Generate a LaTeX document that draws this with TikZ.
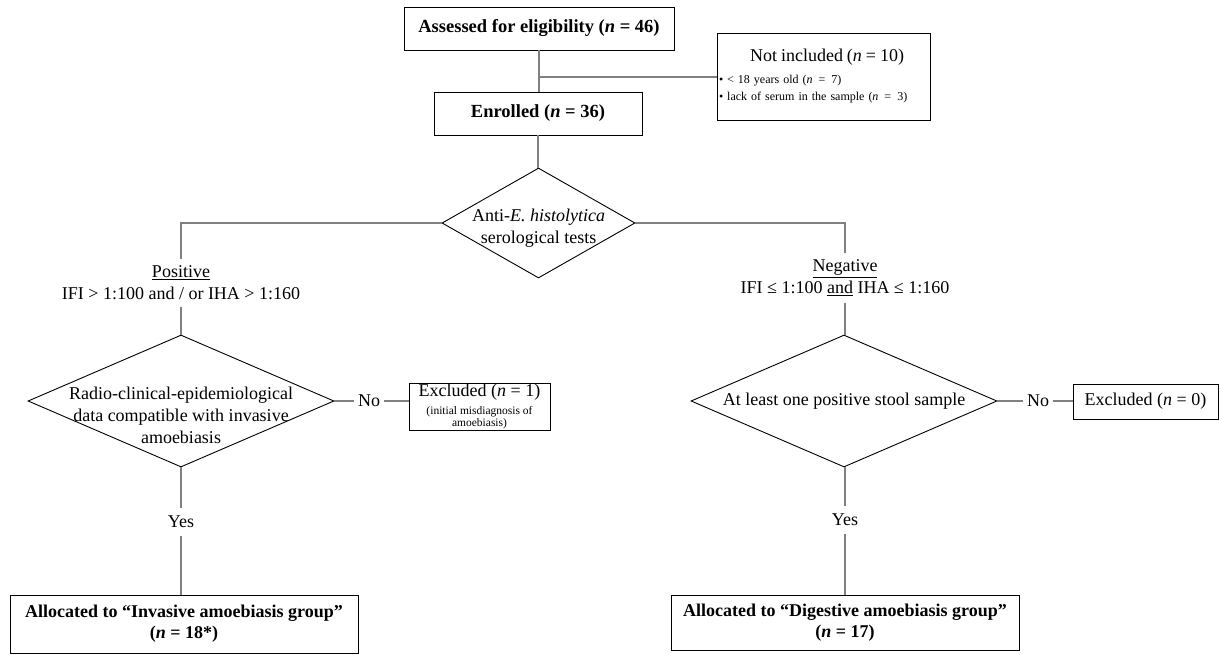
\documentclass[tikz,border=0pt]{standalone}
\usepackage{fontspec}
\setmainfont{Liberation Serif}
\usetikzlibrary{shapes.geometric}
\newcommand{\nn}{\textit{n}}
\begin{document}
\begin{tikzpicture}[x=1pt,y=-1pt,
  box/.style={draw=black,line width=0.9pt,align=center,inner sep=0pt},
  decision/.style={diamond,draw=black,line width=0.9pt,inner sep=0pt},
  link/.style={draw=gray,line width=2pt},
  txt/.style={align=center,font=\fontsize{18}{22}\selectfont},
  bold/.style={font=\bfseries\fontsize{18.5}{21}\selectfont}]
\useasboundingbox (0,0) rectangle (1222,654);

\node[box,bold,minimum width=270,minimum height=43] (assessed) at (539,28.5) {Assessed for eligibility (\nn{} = 46)};
\node[box,bold,minimum width=208,minimum height=43] (enrolled) at (538,113.5) {Enrolled (\nn{} = 36)};
\node[box,minimum width=213,minimum height=87,text width=209,align=left,
  font=\fontsize{12}{17}\selectfont] (notinc) at (823.5,76.5)
  {\hspace*{31pt}{\fontsize{18}{18}\selectfont Not included (\nn{} = 10)}\\[5pt]
   • < 18 years old (\nn{}\enspace=\enspace7)\\
   • lack of serum in the sample (\nn{}\enspace=\enspace3)};

\node[decision,minimum width=193,minimum height=110,
  label={[txt,yshift=-5]center:Anti-\textit{E. histolytica}\\serological tests}] (serol) at (538.5,223) {};

\node[txt,inner sep=7pt] (pos) at (181,283) {\underline{Positive}\\IFI > 1:100 and / or IHA > 1:160};
\node[txt,inner sep=7pt] (neg) at (845,278) {\underline{Negative}\\IFI ≤ 1:100 \underline{and} IHA ≤ 1:160};

\node[decision,minimum width=306,minimum height=132,
  label={[txt,yshift=-14]center:Radio-clinical-epidemiological\\data compatible with invasive\\amoebiasis}] (radio) at (181,401) {};
\node[decision,minimum width=306,minimum height=132,
  label={[txt]center:At least one positive stool sample}] (stool) at (844,401) {};

\node[txt] (no1) at (369,401) {No};
\node[box,minimum width=141,minimum height=47,font=\fontsize{11.5}{11.5}\selectfont] (excl1) at (479.5,406.5)
  {{\fontsize{18}{18}\selectfont Excluded (\nn{} = 1)}\\[5pt]
   (initial misdiagnosis of\\amoebiasis)};
\node[txt] (no2) at (1038,401) {No};
\node[box,txt,minimum width=145,minimum height=35,inner sep=0pt] (excl2) at (1145.5,401.5) {Excluded (\nn{} = 0)};

\node[txt,inner sep=8pt] (yes1) at (181,522) {Yes};
\node[txt,inner sep=8pt] (yes2) at (845,520) {Yes};

\node[box,minimum width=348,minimum height=58,font=\bfseries\fontsize{18}{21}\selectfont] (inv) at (184,624)
  {Allocated to “Invasive amoebiasis group”\\(\nn{} = 18*)};
\node[box,minimum width=348,minimum height=55,font=\bfseries\fontsize{18}{21}\selectfont] (dig) at (845,622.5)
  {Allocated to “Digestive amoebiasis group”\\(\nn{} = 17)};

\draw[link] (assessed.south) -- (assessed.south |- enrolled.north);
\draw[link] (notinc.west) -- (notinc.west -| assessed.south);
\draw[link] (enrolled.south) -- (enrolled.south |- serol.north);
\draw[link] (serol.west) -| (pos.north);
\draw[link] (serol.east) -| (neg.north);
\draw[link] (pos.south) -- (pos.south |- radio.north);
\draw[link] (neg.south) -- (neg.south |- stool.north);
\draw[link] (radio.east) -- (no1.west);
\draw[link] (no1.east) -- (no1.east -| excl1.west);
\draw[link] (stool.east) -- (no2.west);
\draw[link] (no2.east) -- (no2.east -| excl2.west);
\draw[link] (yes1.north |- radio.south) -- (yes1.north);
\draw[link] (yes1.south) -- (yes1.south |- inv.north);
\draw[link] (yes2.north |- stool.south) -- (yes2.north);
\draw[link] (yes2.south) -- (yes2.south |- dig.north);
\end{tikzpicture}
\end{document}
